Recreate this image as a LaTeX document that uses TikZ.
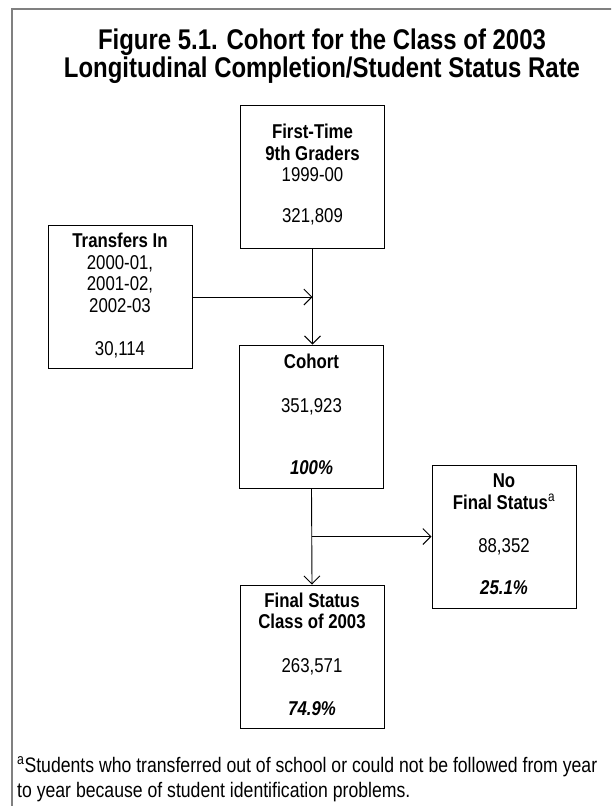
\documentclass[tikz,border=0pt]{standalone}
\usepackage{fontspec}
\setmainfont[FakeStretch=0.84]{Liberation Sans}
\usepackage{tikz}
\usetikzlibrary{arrows.meta,positioning}

\tikzset{
	box/.style={draw,line width=1pt,minimum width=144pt,minimum height=143pt,inner sep=0pt},
	boxtext/.style={align=center,inner sep=0pt,anchor=base,font=\fontsize{20pt}{21pt}\selectfont},
	flow/.style={line width=0.9pt,-{Straight Barb[length=8pt,width=16pt]}},
}

\begin{document}
\begin{tikzpicture}[x=1pt,y=-1pt]
	\useasboundingbox (0,0) rectangle (611,806);
	\clip (0,0) rectangle (611,806);
	\draw[gray,line width=2pt] (12,9) rectangle (640,840);

	% multi-line nodes: base = baseline of the last line
	\node[align=center,inner sep=0pt,anchor=base,font=\bfseries\fontsize{28.5pt}{28pt}\selectfont] (title) at (322,77) {Figure 5.1. Cohort for the Class of 2003\\Longitudinal Completion/Student Status Rate};

	\node[box] (firsttime) at (312.5,176.5) {};
	\node[box] (transfers) at (120,297) {};
	\node[box] (cohort) at (311.5,416.5) {};
	\node[box] (nofinal) at (504,536.5) {};
	\node[box] (finalst) at (312,656.5) {};

	\node[boxtext] (firsttimetxt) at ([yshift=-118pt]firsttime.north) {\textbf{First-Time}\\[1pt]\textbf{9th Graders}\\1999-00\\[20pt]321,809};
	\node[boxtext] (transferstxt) at ([yshift=-130pt]transfers.north) {\textbf{Transfers In}\\[1pt]2000-01,\\2001-02,\\[1pt]2002-03\\[22pt]30,114};
	\node[boxtext] (cohorttxt) at ([yshift=-130pt]cohort.north) {\textbf{Cohort}\\[23pt]351,923\\[41pt]\textbf{\textit{100\%}}};
	\node[boxtext] (nofinaltxt) at ([yshift=-130pt]nofinal.north) {\textbf{No}\\[1pt]\textbf{Final Status}\textsuperscript{a}\\[22pt]88,352\\[21pt]\textbf{\textit{25.1\%}}};
	\node[boxtext] (finalsttxt) at ([yshift=-131pt]finalst.north) {\textbf{Final Status}\\\textbf{Class of 2003}\\[23pt]263,571\\[22pt]\textbf{\textit{74.9\%}}};

	\node[align=left,anchor=base west,inner sep=0pt,font=\fontsize{21pt}{25pt}\selectfont] (note) at (17,797) {\textsuperscript{a}Students who transferred out of school or could not be followed from year\\to year because of student identification problems.};

	\draw[flow] (firsttime.south) -- (firsttime.south |- cohort.north);
	\draw[flow] (transfers.east) -- (transfers.east -| firsttime.south);
	\draw[flow] (cohort.south) -- (finalst.north);
	\coordinate (split) at (cohort.south |- nofinal.west);
	\draw[flow] (split) -- (nofinal.west);
\end{tikzpicture}
\end{document}
